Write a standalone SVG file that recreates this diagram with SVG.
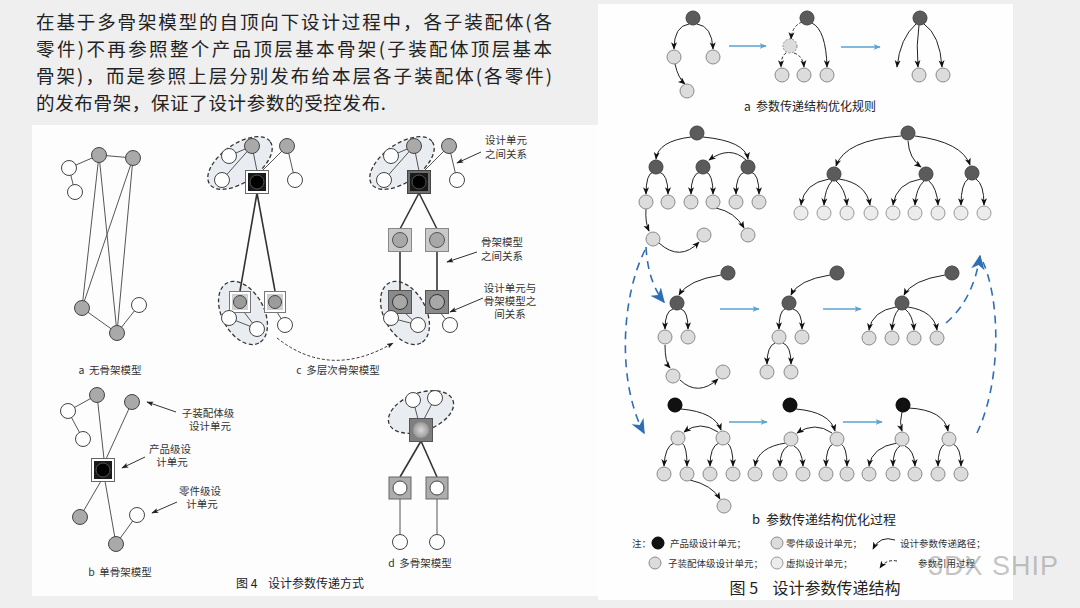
<svg xmlns="http://www.w3.org/2000/svg" width="1080" height="608" viewBox="0 0 1080 608">
<defs>
<marker id="ah" viewBox="0 0 10 10" refX="9" refY="5" markerWidth="7.5" markerHeight="7.5" markerUnits="userSpaceOnUse" orient="auto"><path d="M0,1 L10,5 L0,9 L2.5,5 z" fill="#111"/></marker>
<marker id="ah4" viewBox="0 0 10 10" refX="9" refY="5" markerWidth="7" markerHeight="7" markerUnits="userSpaceOnUse" orient="auto"><path d="M0,1.5 L10,5 L0,8.5 L2,5 z" fill="#222"/></marker>
<marker id="bah" viewBox="0 0 10 10" refX="9" refY="5" markerWidth="7" markerHeight="7" markerUnits="userSpaceOnUse" orient="auto"><path d="M0,1 L10,5 L0,9 L2.5,5 z" fill="#5aa3cf"/></marker>
<marker id="bbh" viewBox="0 0 10 10" refX="9" refY="5" markerWidth="15" markerHeight="15" markerUnits="userSpaceOnUse" orient="auto"><path d="M0,0.5 L10,5 L0,9.5 L3,5 z" fill="#2e6eb5"/></marker>
<radialGradient id="glow" cx="0.5" cy="0.5" r="0.5"><stop offset="0" stop-color="#d8d8d8"/><stop offset="1" stop-color="#9a9a9a"/></radialGradient>
</defs>
<style>
.txt{font-family:"Noto Sans CJK SC","Noto Sans CJK TC",sans-serif;fill:#222}
.lbl{font-family:"Noto Sans CJK SC",sans-serif;font-size:10.5px;fill:#333}
.lg{font-family:"Noto Sans CJK SC",sans-serif;font-size:9.5px;fill:#333}
.g4{fill:#a9a9a9;stroke:#444;stroke-width:1}
.w4{fill:#fff;stroke:#444;stroke-width:1}
.ln{stroke:#555;stroke-width:1;fill:none}
.lb{stroke:#333;stroke-width:1.6;fill:none}
.el{fill:#e9edf1;stroke:#333;stroke-width:1.3;stroke-dasharray:4 2.5}
.la{stroke:#333;stroke-width:1;fill:none;marker-end:url(#ah4)}
.dk{fill:#5b5b5b;stroke:#444;stroke-width:1}
.lt{fill:#dcdcdc;stroke:#8a8a8a;stroke-width:1}
.lt2{fill:#ececec;stroke:#999;stroke-width:1}
.bk{fill:#111;stroke:#000}
.cv{fill:none;stroke:#222;stroke-width:1;marker-end:url(#ah)}
.cvd{fill:none;stroke:#222;stroke-width:1;stroke-dasharray:3 2;marker-end:url(#ah)}
.bl{stroke:#5aa3cf;stroke-width:1.3;fill:none;marker-end:url(#bah)}
.bd{stroke:#2e6eb5;stroke-width:1.6;stroke-dasharray:8 6;fill:none}
</style>
<rect x="0" y="0" width="1080" height="608" fill="#efefef"/>
<rect x="32" y="125" width="566" height="471" fill="#fdfdfd"/>
<rect x="598" y="4" width="415" height="596" fill="#fefefe"/>

<g id="para" class="txt" font-size="18.5">
<text x="36" y="29" textLength="516" lengthAdjust="spacing">在基于多骨架模型的自顶向下设计过程中，各子装配体(各</text>
<text x="36" y="56" textLength="516" lengthAdjust="spacing">零件)不再参照整个产品顶层基本骨架(子装配体顶层基本</text>
<text x="36" y="83" textLength="516" lengthAdjust="spacing">骨架)，而是参照上层分别发布给本层各子装配体(各零件)</text>
<text x="36" y="110" textLength="350" lengthAdjust="spacing">的发布骨架，保证了设计参数的受控发布.</text>
</g>

<!-- Fig 4 a -->
<g id="fig4a">
<g class="ln">
<line x1="69" y1="168" x2="99" y2="155"/><line x1="99" y1="155" x2="133" y2="158"/>
<line x1="69" y1="168" x2="75" y2="192"/>
<line x1="99" y1="155" x2="82" y2="308"/><line x1="99" y1="155" x2="117" y2="333"/>
<line x1="133" y1="158" x2="82" y2="308"/><line x1="133" y1="158" x2="117" y2="333"/>
<line x1="82" y1="308" x2="117" y2="333"/><line x1="117" y1="333" x2="139" y2="305"/>
</g>
<circle class="g4" cx="99" cy="155" r="7.5"/><circle class="g4" cx="133" cy="158" r="7.5"/>
<circle class="w4" cx="69" cy="168" r="7.5"/><circle class="w4" cx="75" cy="192" r="7.5"/>
<circle class="g4" cx="82" cy="308" r="7.5"/><circle class="g4" cx="117" cy="333" r="7.5"/>
<circle class="w4" cx="139" cy="305" r="7.5"/>
<text class="lbl" x="110" y="374" text-anchor="middle">a&#160;&#160;无骨架模型</text>
</g>

<!-- Fig 4 c left -->
<g id="fig4c-left">
<ellipse class="el" cx="240" cy="163" rx="37" ry="19" transform="rotate(-35 240 163)"/>
<ellipse class="el" cx="243" cy="313" rx="34" ry="21" transform="rotate(62 243 313)"/>
<g class="ln">
<line x1="229" y1="156" x2="252" y2="146"/><line x1="222" y1="180" x2="252" y2="146"/>
<line x1="252" y1="146" x2="257" y2="171"/><line x1="287" y1="146" x2="262" y2="171"/>
<line x1="287" y1="146" x2="295" y2="180"/>
<line x1="244" y1="312" x2="257" y2="329"/><line x1="229" y1="318" x2="257" y2="329"/>
<line x1="277" y1="312" x2="285" y2="325"/>
</g>
<line class="lb" x1="257" y1="193" x2="240" y2="291"/><line class="lb" x1="257" y1="193" x2="275" y2="291"/>
<circle class="g4" cx="252" cy="146" r="7.5"/><circle class="g4" cx="287" cy="146" r="7.5"/>
<circle class="w4" cx="229" cy="156" r="7.5"/><circle class="w4" cx="222" cy="180" r="7.5"/><circle class="w4" cx="295" cy="180" r="7.5"/>
<rect x="245.5" y="170.5" width="23" height="23" fill="#fff" stroke="#666"/>
<rect x="248" y="173" width="18" height="18" fill="#1a1a1a"/><circle cx="257" cy="182" r="7" fill="#000" stroke="#555"/>
<rect x="229.5" y="291.5" width="21" height="21" fill="#fff" stroke="#777"/><rect x="232" y="294" width="16" height="16" fill="#cfcfcf"/><circle cx="240" cy="302" r="6.5" fill="#9c9c9c" stroke="#444"/>
<rect x="264.5" y="291.5" width="21" height="21" fill="#fff" stroke="#777"/><rect x="267" y="294" width="16" height="16" fill="#cfcfcf"/><circle cx="275" cy="302" r="6.5" fill="#9c9c9c" stroke="#444"/>
<circle class="w4" cx="229" cy="318" r="7.5"/><circle class="w4" cx="257" cy="329" r="7.5"/><circle class="w4" cx="285" cy="325" r="7.5"/>
</g>

<!-- Fig 4 c right -->
<g id="fig4c-right">
<ellipse class="el" cx="402" cy="163" rx="37" ry="19" transform="rotate(-35 402 163)"/>
<ellipse class="el" cx="405" cy="313" rx="34" ry="21" transform="rotate(62 405 313)"/>
<g class="ln">
<line x1="391" y1="156" x2="414" y2="146"/><line x1="384" y1="180" x2="414" y2="146"/>
<line x1="414" y1="146" x2="419" y2="171"/><line x1="449" y1="146" x2="424" y2="171"/>
<line x1="449" y1="146" x2="457" y2="180"/>
<line x1="404" y1="312" x2="418" y2="325"/><line x1="391" y1="318" x2="418" y2="325"/>
<line x1="440" y1="312" x2="450" y2="325"/>
</g>
<line class="lb" x1="419" y1="193" x2="400" y2="229"/><line class="lb" x1="419" y1="193" x2="437" y2="229"/>
<line class="lb" x1="400" y1="252" x2="400" y2="291"/><line class="lb" x1="437" y1="252" x2="437" y2="291"/>
<circle class="g4" cx="414" cy="146" r="7.5"/><circle class="g4" cx="449" cy="146" r="7.5"/>
<circle class="w4" cx="391" cy="156" r="7.5"/><circle class="w4" cx="384" cy="180" r="7.5"/><circle class="w4" cx="457" cy="180" r="7.5"/>
<rect x="407.5" y="170.5" width="23" height="23" fill="#6e6e6e" stroke="#444"/>
<rect x="410" y="173" width="18" height="18" fill="#1a1a1a"/><circle cx="419" cy="182" r="7" fill="#000" stroke="#555"/>
<rect x="388.5" y="228.5" width="23" height="23" fill="#c9c9c9" stroke="#888"/><circle cx="400" cy="240" r="7.5" fill="#a8a8a8" stroke="#555"/>
<rect x="425.5" y="228.5" width="23" height="23" fill="#c9c9c9" stroke="#888"/><circle cx="437" cy="240" r="7.5" fill="#a8a8a8" stroke="#555"/>
<rect x="388.5" y="290.5" width="23" height="23" fill="#8a8a8a" stroke="#555"/><circle cx="400" cy="302" r="7.5" fill="#a8a8a8" stroke="#333"/>
<rect x="425.5" y="290.5" width="23" height="23" fill="#8a8a8a" stroke="#555"/><circle cx="437" cy="302" r="7.5" fill="#a8a8a8" stroke="#333"/>
<circle class="w4" cx="391" cy="318" r="7.5"/><circle class="w4" cx="418" cy="325" r="7.5"/><circle class="w4" cx="450" cy="325" r="7.5"/>
</g>

<g id="fig4c-labels">
<text class="lbl" x="506" y="144" text-anchor="middle">设计单元</text>
<text class="lbl" x="506" y="158" text-anchor="middle">之间关系</text>
<text class="lbl" x="502" y="246" text-anchor="middle">骨架模型</text>
<text class="lbl" x="502" y="260" text-anchor="middle">之间关系</text>
<text class="lbl" x="510" y="292" text-anchor="middle">设计单元与</text>
<text class="lbl" x="510" y="305" text-anchor="middle">骨架模型之</text>
<text class="lbl" x="510" y="318" text-anchor="middle">间关系</text>
<text class="lbl" x="338" y="374" text-anchor="middle">c&#160;&#160;多层次骨架模型</text>
</g>

<!-- Fig 4 b -->
<g id="fig4b">
<g class="ln">
<line x1="68" y1="411" x2="97" y2="395"/><line x1="68" y1="411" x2="83" y2="439"/>
<line x1="97" y1="395" x2="104" y2="459"/><line x1="132" y1="402" x2="106" y2="459"/>
<line x1="101" y1="481" x2="80" y2="517"/><line x1="105" y1="481" x2="116" y2="544"/>
<line x1="116" y1="544" x2="137" y2="515"/>
</g>
<circle class="g4" cx="97" cy="395" r="7.5"/><circle class="g4" cx="132" cy="402" r="7.5"/>
<circle class="w4" cx="68" cy="411" r="7.5"/><circle class="w4" cx="83" cy="439" r="7.5"/>
<rect x="91.5" y="458.5" width="23" height="23" fill="#fff" stroke="#666"/>
<rect x="94" y="461" width="18" height="18" fill="#1a1a1a"/><circle cx="103" cy="470" r="7" fill="#000" stroke="#555"/>
<circle class="g4" cx="80" cy="517" r="7.5"/><circle class="g4" cx="116" cy="544" r="7.5"/><circle class="w4" cx="137" cy="515" r="7.5"/>
<text class="lbl" x="208" y="417" text-anchor="middle">子装配体级</text>
<text class="lbl" x="210" y="430" text-anchor="middle">设计单元</text>
<text class="lbl" x="170" y="453" text-anchor="middle">产品级设</text>
<text class="lbl" x="172" y="466" text-anchor="middle">计单元</text>
<text class="lbl" x="200" y="495" text-anchor="middle">零件级设</text>
<text class="lbl" x="202" y="508" text-anchor="middle">计单元</text>
<text class="lbl" x="120" y="576" text-anchor="middle">b&#160;&#160;单骨架模型</text>
</g>

<!-- Fig 4 d -->
<g id="fig4d">
<ellipse class="el" cx="421" cy="412" rx="34" ry="19" transform="rotate(-20 421 412)"/>
<g class="ln">
<line x1="413" y1="400" x2="418" y2="419"/><line x1="435" y1="398" x2="424" y2="419"/>
<line x1="400" y1="499" x2="400" y2="535"/><line x1="437" y1="499" x2="437" y2="535"/>
</g>
<line class="lb" x1="421" y1="441" x2="400" y2="477"/><line class="lb" x1="421" y1="441" x2="437" y2="477"/>
<circle class="w4" cx="413" cy="400" r="7.5"/><circle class="w4" cx="435" cy="398" r="7.5"/>
<rect x="409.5" y="418.5" width="23" height="23" fill="#7f7f7f" stroke="#555"/>
<circle cx="421" cy="430" r="8" fill="url(#glow)"/>
<rect x="389" y="477" width="22" height="22" fill="#adadad" stroke="#666"/><circle class="w4" cx="400" cy="488" r="7"/>
<rect x="426" y="477" width="22" height="22" fill="#adadad" stroke="#666"/><circle class="w4" cx="437" cy="488" r="7"/>
<circle class="w4" cx="400" cy="542" r="7.5"/><circle class="w4" cx="437" cy="542" r="7.5"/>
<text class="lbl" x="420" y="567" text-anchor="middle">d&#160;&#160;多骨架模型</text>
</g>
<text id="fig4cap" class="txt" font-size="12" x="300" y="588" text-anchor="middle" fill="#333">图 4&#160;&#160;&#160;&#160;设计参数传递方式</text>

<g id="fig4-connectors">
<path d="M277,338 Q330,380 393,343" fill="none" stroke="#333" stroke-width="1" stroke-dasharray="3 2" marker-end="url(#ah4)"/>
<line class="la" x1="481" y1="152" x2="457" y2="163"/>
<line class="la" x1="477" y1="252" x2="447" y2="262"/>
<line class="la" x1="483" y1="298" x2="450" y2="312"/>
<line class="la" x1="176" y1="412" x2="147" y2="402"/>
<line class="la" x1="145" y1="457" x2="122" y2="468"/>
<line class="la" x1="177" y1="502" x2="152" y2="513"/>
</g>

<!-- Fig 5 connectors -->
<g id="fig5-connectors">
<path class="cv" d="M689,24 Q674,26 674,49"/><path class="cv" d="M697,24 Q712,26 713,49"/>
<path class="cv" d="M675,64 Q678,78 685,84"/>
<path class="bl" d="M729,46 L766,46"/>
<path class="cvd" d="M802,22 Q792,26 791,39"/><path class="cvd" d="M786,53 Q781,56 781,67"/><path class="cvd" d="M794,53 Q803,56 804,67"/>
<path class="cv" d="M812,23 Q826,30 827,67"/>
<path class="bl" d="M841,47 L880,47"/>
<path class="cv" d="M916,24 Q900,38 897,67"/><path class="cv" d="M919,25 Q916,45 918,67"/><path class="cv" d="M924,24 Q940,35 942,67"/>

<path class="cv" d="M691,137 Q658,141 656,159"/><path class="cv" d="M703,137 Q745,141 748,159"/>
<path class="cv" d="M746,160 Q730,145 709,160"/>
<path class="cv" d="M653,172 Q646,174 646,194"/><path class="cv" d="M659,172 Q668,174 668,194"/>
<path class="cv" d="M700,172 Q691,174 691,194"/><path class="cv" d="M706,172 Q713,174 713,194"/>
<path class="cv" d="M745,172 Q736,174 736,194"/><path class="cv" d="M751,172 Q759,174 759,194"/>
<path class="cv" d="M646,209 Q645,222 649,231"/>
<path class="cv" d="M659,243 Q680,262 699,242"/>
<path class="cv" d="M716,208 Q735,212 744,228"/>

<path class="cv" d="M901,136 Q845,140 836,166"/><path class="cv" d="M908,141 Q909,158 921,167"/><path class="cv" d="M915,136 Q962,142 970,165"/>
<path class="cv" d="M829,179 Q804,183 801,205"/><path class="cv" d="M832,181 Q825,188 824,205"/><path class="cv" d="M836,181 Q845,188 847,205"/><path class="cv" d="M839,179 Q866,183 870,205"/>
<path class="cv" d="M921,179 Q896,183 893,205"/><path class="cv" d="M924,181 Q916,188 915,205"/><path class="cv" d="M929,181 Q937,188 938,205"/>
<path class="cv" d="M968,179 Q961,184 961,205"/><path class="cv" d="M976,179 Q984,184 984,205"/>

<path class="cv" d="M721,275 Q688,280 679,295"/>
<path class="cv" d="M673,309 Q665,311 665,329"/><path class="cv" d="M681,309 Q688,311 688,329"/>
<path class="cv" d="M665,345 Q665,362 670,368"/>
<path class="cv" d="M680,380 Q698,397 718,379"/>
<path class="bl" d="M720,309 L759,309"/>
<path class="cv" d="M830,275 Q798,280 791,295"/>
<path class="cv" d="M785,309 Q779,311 779,329"/><path class="cv" d="M793,309 Q802,311 802,329"/>
<path class="cv" d="M775,343 Q767,346 767,364"/><path class="cv" d="M783,343 Q791,346 791,364"/>
<path class="bl" d="M823,309 L861,309"/>
<path class="cv" d="M945,275 Q912,280 904,295"/>
<path class="cv" d="M896,307 Q872,311 869,330"/><path class="cv" d="M899,309 Q893,315 892,330"/><path class="cv" d="M905,309 Q913,315 914,330"/><path class="cv" d="M908,307 Q934,311 937,330"/>

<path class="cv" d="M681,409 Q715,412 721,430"/>
<path class="cv" d="M718,432 Q700,420 684,432"/>
<path class="cv" d="M674,443 Q665,446 664,466"/><path class="cv" d="M682,443 Q687,446 687,466"/>
<path class="cv" d="M719,443 Q710,446 710,466"/><path class="cv" d="M727,443 Q733,446 733,466"/>
<path class="cv" d="M690,480 Q712,485 720,499"/>
<path class="bl" d="M729,422 L767,422"/>
<path class="cv" d="M796,409 Q830,412 835,431"/>
<path class="cv" d="M832,433 Q815,421 797,433"/>
<path class="cv" d="M786,443 Q758,447 755,466"/><path class="cv" d="M788,446 Q780,450 780,466"/><path class="cv" d="M794,446 Q802,450 803,466"/>
<path class="cv" d="M833,444 Q826,447 826,466"/><path class="cv" d="M841,444 Q847,447 847,466"/>
<path class="bl" d="M843,422 L882,422"/>
<path class="cv" d="M902,412 Q899,422 902,431"/>
<path class="cv" d="M909,408 Q944,410 948,431"/>
<path class="cv" d="M897,443 Q872,447 869,466"/><path class="cv" d="M900,446 Q893,450 893,466"/><path class="cv" d="M905,446 Q914,450 915,466"/>
<path class="cv" d="M945,444 Q938,447 938,466"/><path class="cv" d="M953,444 Q961,447 961,466"/>

<path class="bd" d="M646,247 Q648,282 664,302" marker-end="url(#bbh)"/>
<path class="bd" d="M645,250 C620,300 618,385 644,433" marker-end="url(#bbh)"/>
<path class="bd" d="M946,323 Q973,300 980,256" marker-end="url(#bbh)"/>
<path class="bd" d="M977,433 C1002,380 1000,300 983,262"/>
</g>

<!-- Fig 5 nodes -->
<g id="fig5a-nodes">
<circle class="dk" cx="693" cy="18" r="7"/><circle class="lt" cx="674" cy="57" r="7"/><circle class="lt" cx="713" cy="57" r="7"/><circle class="lt" cx="687" cy="91" r="7"/>
<circle class="dk" cx="807" cy="18" r="7"/><circle class="lt" cx="790" cy="46" r="7" stroke-dasharray="2 1.5"/>
<circle class="lt" cx="782" cy="75" r="7"/><circle class="lt" cx="804" cy="75" r="7"/><circle class="lt" cx="827" cy="75" r="7"/>
<circle class="dk" cx="920" cy="18" r="7"/><circle class="lt" cx="919" cy="75" r="7"/><circle class="lt" cx="943" cy="75" r="7"/>
<text class="txt" font-size="12" x="810" y="111" text-anchor="middle" fill="#333">a&#160;&#160;参数传递结构优化规则</text>
</g>
<g id="fig5b-top-left">
<circle class="dk" cx="697" cy="133" r="7"/>
<circle class="dk" cx="656" cy="167" r="7"/><circle class="dk" cx="703" cy="167" r="7"/><circle class="dk" cx="748" cy="167" r="7"/>
<circle class="lt" cx="646" cy="202" r="7"/><circle class="lt" cx="668" cy="202" r="7"/><circle class="lt" cx="691" cy="202" r="7"/><circle class="lt" cx="713" cy="202" r="7"/><circle class="lt" cx="736" cy="202" r="7"/><circle class="lt" cx="759" cy="202" r="7"/>
<circle class="lt" cx="653" cy="239" r="7"/><circle class="lt" cx="704" cy="235" r="7"/><circle class="lt" cx="748" cy="235" r="7"/>
</g>
<g id="fig5b-top-right">
<circle class="dk" cx="908" cy="133" r="7"/>
<circle class="dk" cx="834" cy="174" r="7"/><circle class="dk" cx="926" cy="174" r="7"/><circle class="dk" cx="972" cy="173" r="7"/>
<circle class="lt2" cx="801" cy="213" r="7"/><circle class="lt2" cx="824" cy="213" r="7"/><circle class="lt2" cx="847" cy="213" r="7"/><circle class="lt2" cx="871" cy="213" r="7"/><circle class="lt2" cx="893" cy="213" r="7"/><circle class="lt2" cx="915" cy="213" r="7"/><circle class="lt2" cx="938" cy="213" r="7"/><circle class="lt2" cx="961" cy="213" r="7"/><circle class="lt2" cx="984" cy="213" r="7"/>
</g>
<g id="fig5b-mid">
<circle class="dk" cx="728" cy="273" r="7"/><circle class="dk" cx="677" cy="303" r="7"/>
<circle class="lt" cx="665" cy="337" r="7"/><circle class="lt" cx="688" cy="337" r="7"/><circle class="lt" cx="673" cy="376" r="7"/><circle class="lt" cx="723" cy="372" r="7"/>
<circle class="dk" cx="837" cy="273" r="7"/><circle class="dk" cx="789" cy="303" r="7"/>
<circle class="lt" cx="779" cy="337" r="7"/><circle class="lt" cx="802" cy="337" r="7"/><circle class="lt" cx="767" cy="372" r="7"/><circle class="lt" cx="791" cy="372" r="7"/>
<circle class="dk" cx="952" cy="273" r="7"/><circle class="dk" cx="902" cy="303" r="7"/>
<circle class="lt" cx="869" cy="338" r="7"/><circle class="lt" cx="892" cy="338" r="7"/><circle class="lt" cx="914" cy="338" r="7"/><circle class="lt" cx="937" cy="338" r="7"/>
</g>
<g id="fig5b-bottom">
<circle class="bk" cx="675" cy="405" r="7"/><circle class="lt" cx="678" cy="438" r="7"/><circle class="lt" cx="723" cy="438" r="7"/>
<circle class="lt" cx="664" cy="474" r="7"/><circle class="lt" cx="687" cy="474" r="7"/><circle class="lt" cx="710" cy="474" r="7"/><circle class="lt" cx="733" cy="474" r="7"/><circle class="lt" cx="724" cy="506" r="7"/>
<circle class="bk" cx="790" cy="405" r="7"/><circle class="lt" cx="791" cy="439" r="7"/><circle class="lt" cx="837" cy="439" r="7"/>
<circle class="lt" cx="755" cy="474" r="7"/><circle class="lt" cx="780" cy="474" r="7"/><circle class="lt" cx="803" cy="474" r="7"/><circle class="lt" cx="826" cy="474" r="7"/><circle class="lt" cx="847" cy="474" r="7"/>
<circle class="bk" cx="903" cy="405" r="7"/><circle class="lt" cx="902" cy="439" r="7"/><circle class="lt" cx="949" cy="439" r="7"/>
<circle class="lt" cx="869" cy="474" r="7"/><circle class="lt" cx="893" cy="474" r="7"/><circle class="lt" cx="915" cy="474" r="7"/><circle class="lt" cx="938" cy="474" r="7"/><circle class="lt" cx="961" cy="474" r="7"/>
</g>

<g id="fig5-legend">
<text class="txt" font-size="13" x="824" y="524" text-anchor="middle" fill="#333">b&#160;&#160;参数传递结构优化过程</text>
<text class="lg" x="632" y="547">注：</text>
<circle class="bk" cx="658" cy="543" r="6"/>
<text class="lg" x="670" y="547">产品级设计单元；</text>
<circle class="lt" cx="777" cy="543" r="6"/>
<text class="lg" x="786" y="547">零件级设计单元；</text>
<path class="cv" d="M895,540 Q880,535 873,549"/>
<text class="lg" x="900" y="547">设计参数传递路径；</text>
<circle class="lt" cx="655" cy="563" r="6"/>
<text class="lg" x="668" y="567">子装配体级设计单元；</text>
<circle class="lt2" cx="777" cy="563" r="6"/>
<text class="lg" x="786" y="567">虚拟设计单元；</text>
<path class="cvd" d="M897,561 Q886,559 880,568"/>
<text class="lg" x="918" y="567">参数引用过程</text>
<text class="txt" font-size="16" x="815" y="594" text-anchor="middle" fill="#444">图 5&#160;&#160;&#160;&#160;设计参数传递结构</text>
<text x="928" y="575" font-family="Liberation Sans, sans-serif" font-size="27" fill="#8a8a8a" fill-opacity="0.5" letter-spacing="1">3DX SHIP</text>
</g>
</svg>
